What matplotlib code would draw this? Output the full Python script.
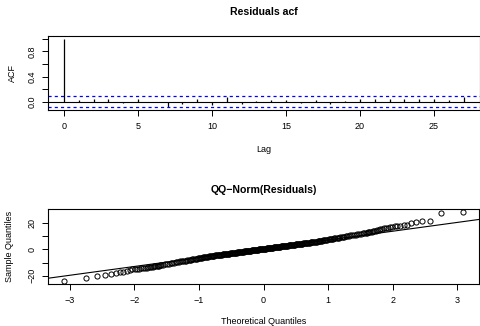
"""
Residual diagnostics: ACF of residuals and a normal QQ plot.
"""

from statistics import NormalDist

import matplotlib

matplotlib.use("Agg")
import matplotlib.pyplot as plt
import numpy as np

# ---- data -------------------------------------------------------------
n_obs = 500

acf_values = [
    1.0, 0.02, 0.04, 0.05, -0.025, 0.047, -0.01, -0.08, -0.03, 0.05,
    -0.05, 0.068, -0.03, 0.01, 0.025, 0.035, -0.015, 0.02, -0.04, 0.015,
    0.04, 0.04, 0.04, 0.045, 0.045, 0.04, 0.025, 0.08,
]

# ranks (1..n) of the residuals that are drawn, and their sorted values
qq_ranks = np.r_[1:31, 32:471:2, 471:501]
qq_sample = [
    # ranks 1-30
    -23.9, -21.7, -20.2, -19.4, -18.4, -18.2, -17.4, -16.9, -16.4, -15.6,
    -15.1, -14.9, -14.7, -14.5, -14.3, -14.2, -14.0, -13.9, -13.7, -13.6,
    -13.3, -13.1, -12.9, -12.7, -12.5, -12.3, -12.2, -12.0, -11.8, -11.7,
    # ranks 32-470, every 2nd
    -11.3, -11.0, -10.7, -10.5, -10.2, -10.0, -9.8, -9.6, -9.3, -9.1,
    -8.9, -8.8, -8.6, -8.4, -8.2, -8.0, -7.9, -7.7, -7.5, -7.4,
    -7.2, -7.1, -6.9, -6.8, -6.6,
    -6.50, -6.34, -6.21, -6.07, -5.94, -5.81, -5.68, -5.55, -5.42, -5.29,
    -5.17, -5.05, -4.93, -4.83, -4.74,
    -4.65, -4.56, -4.47, -4.38, -4.30, -4.22, -4.13, -4.05, -3.96, -3.87,
    -3.79, -3.71, -3.63, -3.55, -3.47, -3.39, -3.31, -3.23, -3.16, -3.08,
    -3.00, -2.93, -2.85, -2.78, -2.70, -2.62, -2.55, -2.47, -2.40, -2.33,
    -2.26, -2.19, -2.11, -2.04, -1.97, -1.89, -1.82, -1.75, -1.68, -1.61,
    -1.54, -1.47, -1.40, -1.33, -1.26, -1.19, -1.12, -1.05, -0.98, -0.91,
    -0.85, -0.78, -0.72, -0.65, -0.58, -0.51, -0.44, -0.38, -0.31, -0.24,
    -0.17, -0.10, -0.04, 0.03, 0.10, 0.16, 0.23, 0.30, 0.36, 0.43,
    0.51, 0.57, 0.64, 0.71, 0.77, 0.84, 0.91, 0.97, 1.04, 1.11,
    1.18, 1.25, 1.31, 1.38, 1.45, 1.52, 1.59, 1.65, 1.72, 1.78,
    1.85, 1.92, 1.99, 2.06, 2.13, 2.20, 2.27, 2.34, 2.41, 2.48,
    2.55, 2.62, 2.68, 2.76, 2.83, 2.91, 2.98, 3.05, 3.13, 3.20,
    3.27, 3.34, 3.41, 3.49, 3.56, 3.64, 3.72, 3.79, 3.87, 3.94,
    4.02, 4.10, 4.17, 4.25, 4.33, 4.41, 4.49, 4.57, 4.65, 4.73,
    4.82, 4.91, 4.99, 5.08, 5.16, 5.24, 5.33, 5.41, 5.51, 5.60,
    5.69, 5.78, 5.89, 6.01, 6.13, 6.26, 6.39, 6.52, 6.65, 6.78,
    6.91, 7.04, 7.18, 7.32, 7.47,
    7.6, 7.8, 7.9, 8.0, 8.2, 8.4, 8.5, 8.7, 8.8, 9.0,
    9.2, 9.4, 9.6, 9.7, 9.9, 10.1, 10.3, 10.6, 10.8, 11.0,
    11.2, 11.5, 11.7, 12.0, 12.3,
    # ranks 471-500
    12.5, 12.6, 12.8, 13.0, 13.1, 13.3, 13.5, 13.7, 13.9, 14.1,
    14.5, 14.9, 15.3, 15.7, 16.0, 16.3, 16.6, 16.9, 17.2, 17.5,
    17.8, 18.1, 18.4, 18.7, 20.0, 21.0, 21.5, 21.7, 28.0, 28.6,
]
assert len(qq_ranks) == len(qq_sample)

# ---- style ------------------------------------------------------------
plt.rcParams["font.family"] = ["Liberation Sans", "DejaVu Sans"]
TICK_FS = 6.5
LABEL_FS = 6.5
TITLE_FS = 7.6
W, H = 480, 326


def r_range(lo, hi):
    """R style axis range: data range widened by 4 percent."""
    pad = (hi - lo) * 0.04
    return lo - pad, hi + pad


def style_axes(ax):
    for s in ax.spines.values():
        s.set_linewidth(0.8)
    ax.tick_params(direction="out", length=4.3, width=0.7, labelsize=TICK_FS,
                   top=False, right=False)
    ax.tick_params(axis="x", pad=4.5)
    ax.tick_params(axis="y", pad=4.0)


fig = plt.figure(figsize=(W / 100, H / 100), dpi=100)

# ---- ACF panel ----------------------------------------------------------
ax1 = fig.add_axes([48 / W, 1 - 110 / H, 431.6 / W, 74 / H])
lags = np.arange(len(acf_values))
clim = NormalDist().inv_cdf(0.975) / np.sqrt(n_obs)

ax1.vlines(lags, 0, acf_values, color="black", lw=0.9)
ax1.axhline(0, color="black", lw=0.8)
for c in (clim, -clim):
    ax1.axhline(c, color="blue", lw=0.9, ls=(0, (2.5, 2.5)))

ax1.set_xlim(r_range(lags.min(), lags.max()))
ax1.set_ylim(r_range(min(min(acf_values), -clim), max(max(acf_values), clim)))
ax1.set_xticks([0, 5, 10, 15, 20, 25])
ax1.set_yticks([0.0, 0.2, 0.4, 0.6, 0.8, 1.0])
ax1.set_yticklabels(["0.0", "", "0.4", "", "0.8", ""], rotation=90, va="center")
style_axes(ax1)

fig.text(264 / W, 1 - 12 / H, "Residuals acf", ha="center", va="center",
         fontsize=TITLE_FS, fontweight="bold")
fig.text(264 / W, 1 - 149 / H, "Lag", ha="center", va="center", fontsize=LABEL_FS)
fig.text(12 / W, 1 - 73 / H, "ACF", ha="center", va="center", rotation=90,
         fontsize=LABEL_FS)

# ---- QQ panel -----------------------------------------------------------
ax2 = fig.add_axes([48 / W, 1 - 283.7 / H, 431 / W, 74.7 / H])
nd = NormalDist()
theo = np.array([nd.inv_cdf((r - 0.5) / n_obs) for r in qq_ranks])
samp = np.array(qq_sample)

ax2.plot(theo, samp, "o", ms=3.7, mfc="none", mec="black", mew=0.7)

# qqline through the quartiles
q1 = np.interp(1 + 0.25 * (n_obs - 1), qq_ranks, samp)
q3 = np.interp(1 + 0.75 * (n_obs - 1), qq_ranks, samp)
z1, z3 = nd.inv_cdf(0.25), nd.inv_cdf(0.75)
slope = (q3 - q1) / (z3 - z1)
ax2.axline((z1, q1), slope=slope, color="black", lw=0.8)

x_lo = nd.inv_cdf(0.5 / n_obs)
ax2.set_xlim(r_range(x_lo, -x_lo))
ax2.set_ylim(r_range(samp.min(), samp.max()))
ax2.set_xticks([-3, -2, -1, 0, 1, 2, 3])
ax2.set_yticks([-20, -10, 0, 10, 20])
ax2.set_yticklabels(["\u221220", "", "0", "", "20"], rotation=90, va="center")
style_axes(ax2)

fig.text(264 / W, 1 - 190 / H, "QQ\u2212Norm(Residuals)", ha="center",
         va="center", fontsize=TITLE_FS, fontweight="bold")
fig.text(264 / W, 1 - 321 / H, "Theoretical Quantiles", ha="center",
         va="center", fontsize=LABEL_FS)
fig.text(10 / W, 1 - 246 / H, "Sample Quantiles", ha="center", va="center",
         rotation=90, fontsize=LABEL_FS)

fig.savefig("out.png", dpi=100)
